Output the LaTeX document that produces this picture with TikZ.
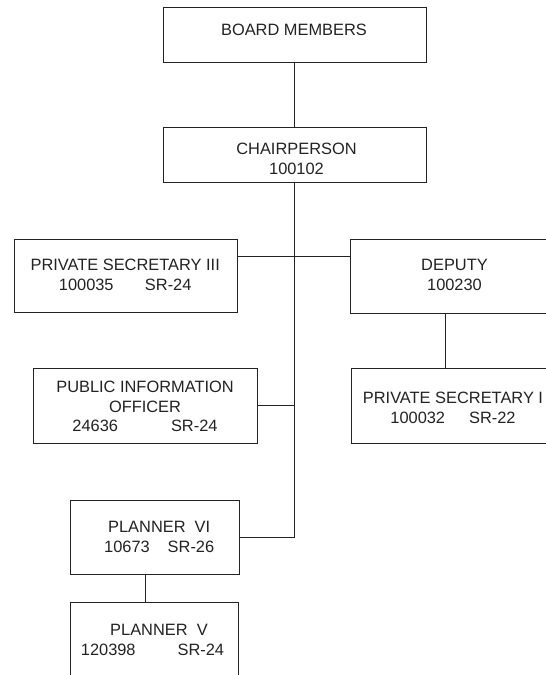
\documentclass[tikz,border=0pt]{standalone}
\usepackage{fontspec}
\setmainfont{Liberation Sans}
\usepackage{xcolor}
\definecolor{org_ink}{RGB}{35, 35, 35}
\usepackage{tikz}
\usetikzlibrary{positioning, calc}

\begin{document}
\begin{tikzpicture}[x=0.5pt, y=-0.5pt,
            font=\fontsize{8.2}{9.9}\selectfont,
            box/.style={draw=org_ink, line width=0.5pt, inner sep=0pt},
            txt/.style={align=center, inner sep=0pt, text=org_ink},
            link/.style={draw=org_ink, line width=0.5pt}]
  \fill[white] (0,0) rectangle (546,675);
  \useasboundingbox (0,0) rectangle (546,675);
  \clip (0,0) rectangle (546,675);

  % boxes
  \node[box, minimum width=131.5pt, minimum height=27.5pt] (board) at (294.5,34.8) {};
  \node[box, minimum width=131.5pt, minimum height=27.75pt] (chair) at (294.5,154.75) {};
  \node[box, minimum width=111.65pt, minimum height=36.75pt] (ps3) at (125.65,275.95) {};
  \node[box, minimum width=103.65pt, minimum height=37pt] (deputy) at (454.35,276.3) {};
  \node[box, minimum width=112pt, minimum height=37.4pt] (pio) at (145.3,405.9) {};
  \node[box, minimum width=103.15pt, minimum height=37.4pt] (ps2) at (454.85,405.9) {};
  \node[box, minimum width=84.15pt, minimum height=36.8pt] (pvi) at (154.85,537.5) {};
  \node[box, minimum width=84pt, minimum height=36.85pt] (pv) at (154.6,639.15) {};

  % texts
  \node[txt] (boardT) at (294,30.3) {BOARD MEMBERS};
  \node[txt] (chairT) at (296.5,158.5) {CHAIRPERSON\\100102};
  \node[txt] (ps3T) at (125.2,274.7) {PRIVATE SECRETARY III\\100035\hspace{15.7pt}SR-24};
  \node[txt] (deputyT) at (454.5,275) {DEPUTY\\100230};
  \node[txt] (pioT) at (145,406.4)
    {PUBLIC INFORMATION\\OFFICER\hspace*{4.5pt}\\24636\hspace{26.5pt}SR-24};
  \node[txt] (ps2T) at (453,407.8) {PRIVATE SECRETARY I\\100032\hspace{12pt}SR-22};
  \node[txt] (pviT) at (159.2,537) {PLANNER\ \ VI\\10673\hspace{9pt}SR-26};
  \node[txt] (pvT) at (155.75,639.75)
    {\hspace*{3.25pt}PLANNER\ \ V\\120398\hspace{21pt}SR-24\hspace*{3.25pt}};

  % connectors
  \coordinate (ps3hub) at (294.5,256.7);
  \coordinate (deptap) at (445,313.3);
  \coordinate (plantap) at (145,574.3);
  \draw[link] (board.south) -- (chair.north);
  \draw[link] (chair.south) |- (pvi.east);
  \draw[link] (ps3hub -| ps3.east) -- (ps3hub -| deputy.west);
  \draw[link] (pio.east) -- (pio.east -| chair.south);
  \draw[link] (deptap |- deputy.south) -- (deptap |- ps2.north);
  \draw[link] (plantap |- pvi.south) -- (plantap |- pv.north);
\end{tikzpicture}
\end{document}
